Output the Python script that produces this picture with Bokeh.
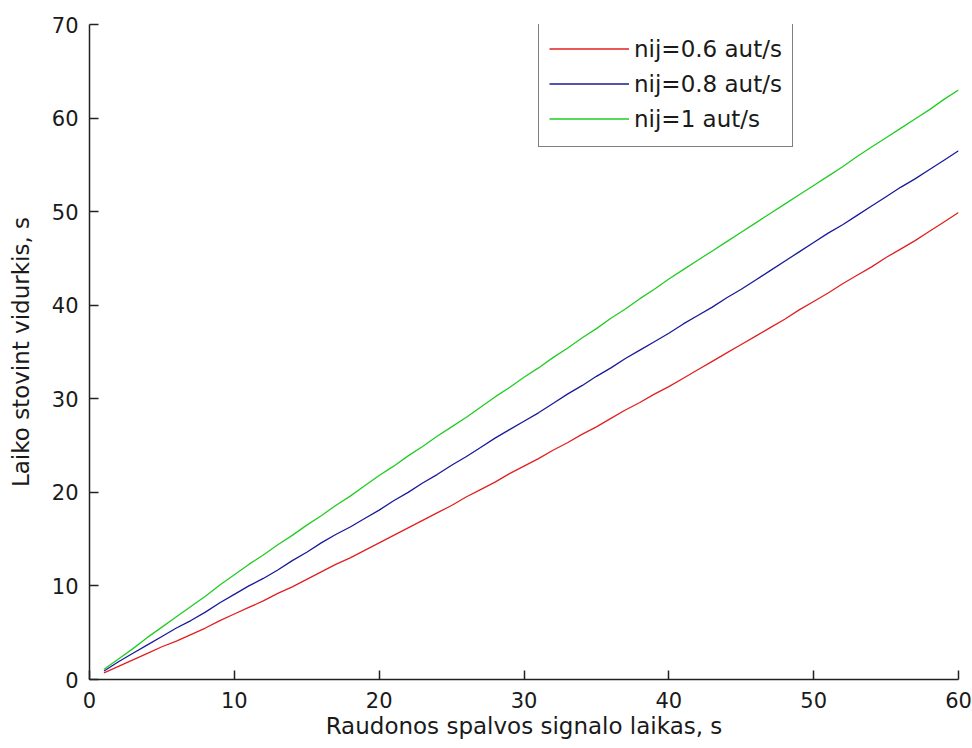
from bokeh.plotting import figure
from bokeh.models import Range1d, FixedTicker, Legend, LegendItem, ColumnDataSource
from bokeh.embed import file_html
from bokeh.resources import INLINE

# Data
x_vals = list(range(1, 61))
red_06 = [0.7, 1.4, 2.1, 2.8, 3.5, 4.1, 4.8, 5.5, 6.3, 7.0,
          7.7, 8.4, 9.2, 9.9, 10.7, 11.5, 12.3, 13.0, 13.8, 14.6,
          15.4, 16.2, 17.0, 17.8, 18.6, 19.5, 20.3, 21.1, 22.0, 22.8,
          23.6, 24.5, 25.3, 26.2, 27.0, 27.9, 28.8, 29.6, 30.5, 31.3,
          32.2, 33.1, 34.0, 34.9, 35.8, 36.7, 37.6, 38.5, 39.5, 40.4,
          41.3, 42.3, 43.2, 44.1, 45.1, 46.0, 46.9, 47.9, 48.9, 49.9]
blue_08 = [0.9, 1.9, 2.8, 3.7, 4.6, 5.5, 6.3, 7.2, 8.2, 9.1,
           10.0, 10.8, 11.7, 12.7, 13.6, 14.6, 15.5, 16.3, 17.2, 18.1,
           19.1, 20.0, 21.0, 21.9, 22.9, 23.8, 24.8, 25.8, 26.7, 27.6,
           28.5, 29.5, 30.5, 31.4, 32.4, 33.3, 34.3, 35.2, 36.1, 37.0,
           38.0, 38.9, 39.8, 40.8, 41.7, 42.7, 43.7, 44.7, 45.7, 46.7,
           47.7, 48.6, 49.6, 50.6, 51.6, 52.6, 53.5, 54.5, 55.5, 56.5]
green_10 = [1.1, 2.2, 3.3, 4.5, 5.6, 6.7, 7.8, 8.9, 10.1, 11.2,
            12.3, 13.3, 14.4, 15.4, 16.5, 17.5, 18.6, 19.6, 20.7, 21.8,
            22.8, 23.9, 24.9, 26.0, 27.0, 28.0, 29.1, 30.2, 31.2, 32.3,
            33.3, 34.4, 35.4, 36.5, 37.5, 38.6, 39.6, 40.7, 41.7, 42.8,
            43.8, 44.8, 45.8, 46.8, 47.8, 48.8, 49.8, 50.8, 51.8, 52.8,
            53.8, 54.8, 55.9, 56.9, 57.9, 58.9, 59.9, 60.9, 62.0, 63.0]
series_labels = ["nij=0.6 aut/s", "nij=0.8 aut/s", "nij=1 aut/s"]
x_ticks = [0, 10, 20, 30, 40, 50, 60]
y_ticks = [0, 10, 20, 30, 40, 50, 60, 70]

FONT = "DejaVu Sans"

p = figure(width=972, height=748, output_backend="svg", toolbar_location=None,
           x_range=Range1d(0, 60), y_range=Range1d(0, 70),
           min_border_left=89, min_border_right=14,
           min_border_top=24, min_border_bottom=69)
p.outline_line_color = None
p.xgrid.visible = False
p.ygrid.visible = False
p.background_fill_color = "white"
p.border_fill_color = "white"

src = ColumnDataSource(dict(x=x_vals, r=red_06, b=blue_08, g=green_10))
lr = p.line("x", "r", source=src, line_color="#e02020", line_width=1.3)
lb = p.line("x", "b", source=src, line_color="#1a1a9a", line_width=1.3)
lg = p.line("x", "g", source=src, line_color="#22cc22", line_width=1.3)

for ax, ticks in ((p.xaxis, x_ticks), (p.yaxis, y_ticks)):
    ax.ticker = FixedTicker(ticks=ticks)
    ax.minor_tick_line_color = None
    ax.major_tick_in = 9
    ax.major_tick_out = 0
    ax.axis_line_color = "#222222"
    ax.axis_line_width = 1.5
    ax.major_tick_line_color = "#222222"
    ax.major_tick_line_width = 1.5
    ax.major_label_text_font = FONT
    ax.major_label_text_font_size = "21px"
    ax.major_label_text_color = "#1a1a1a"
    ax.axis_label_text_font = FONT
    ax.axis_label_text_font_size = "23px"
    ax.axis_label_text_font_style = "normal"
    ax.axis_label_text_color = "#1a1a1a"

p.xaxis.axis_label = "Raudonos spalvos signalo laikas, s"
p.yaxis.axis_label = "Laiko stovint vidurkis, s"
p.xaxis.major_label_standoff = 12
p.xaxis.axis_label_standoff = 2
p.yaxis.major_label_standoff = 11
p.yaxis.axis_label_standoff = 15

legend = Legend(items=[LegendItem(label=series_labels[0], renderers=[lr]),
                       LegendItem(label=series_labels[1], renderers=[lb]),
                       LegendItem(label=series_labels[2], renderers=[lg])],
                location=(449, 532))
legend.label_text_font = FONT
legend.label_text_font_size = "23px"
legend.label_text_color = "#1a1a1a"
legend.glyph_width = 80
legend.glyph_height = 35
legend.label_height = 35
legend.spacing = 0
legend.padding = 10
legend.margin = 0
legend.label_standoff = 5
legend.border_line_color = "black"
legend.border_line_width = 1.5
legend.background_fill_color = "white"
legend.background_fill_alpha = 1
p.add_layout(legend, "center")

open("out.html", "w").write(file_html(p, INLINE))
